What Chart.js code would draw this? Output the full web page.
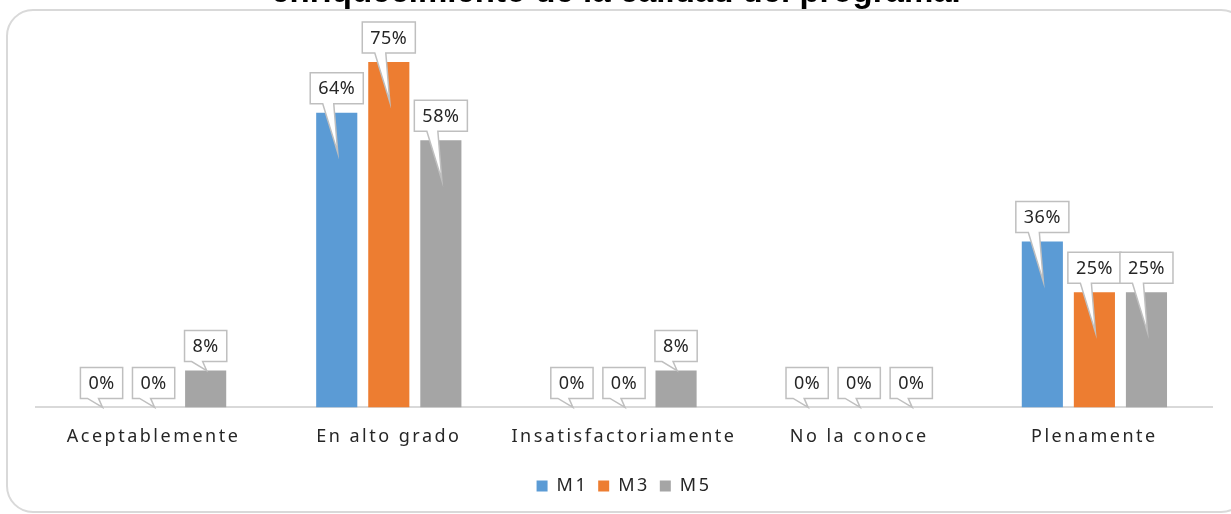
<!DOCTYPE html>
<html>
<head>
<meta charset="utf-8">
<script src="https://cdn.jsdelivr.net/npm/chart.js@4/dist/chart.umd.min.js"></script>
<style>
  html, body { margin: 0; padding: 0; background: #fff; }
  #wrap { width: 1231px; height: 514px; position: relative; }
</style>
</head>
<body>
<div id="wrap"><canvas id="grafico"></canvas></div>
<script>
// datos
const categorias = ['Aceptablemente', 'En alto grado', 'Insatisfactoriamente', 'No la conoce', 'Plenamente'];
const serieM1 = [0, 64, 0, 0, 36];
const serieM3 = [0, 75, 0, 0, 25];
const serieM5 = [8, 58, 8, 0, 25];
const titulo = 'enriquecimiento de la calidad del programa.';

const fuente = "'Noto Sans', sans-serif";
const espaciado = '2.5px';

// la letra original es mas ancha, se abre un poco el espaciado
let espacio = {
  id: 'espacio',
  beforeLayout: function (chart) { chart.ctx.letterSpacing = espaciado; },
  beforeDraw: function (chart) { chart.ctx.letterSpacing = espaciado; }
};

// marco redondeado y titulo cortado arriba
let marcoTitulo = {
  id: 'marcoTitulo',
  beforeDraw: function (chart) {
    let c = chart.ctx;
    c.save();
    c.letterSpacing = '0px';
    c.strokeStyle = '#d9d9d9';
    c.lineWidth = 2;
    c.beginPath();
    c.roundRect(7, 10, 1240, 502, 26);
    c.stroke();
    c.fillStyle = '#000';
    c.font = "bold 33px 'Liberation Sans', Arial, sans-serif";
    c.textAlign = 'center';
    c.textBaseline = 'alphabetic';
    c.fillText(titulo, 616, 2);
    c.restore();
  }
};

// etiquetas tipo globo como en excel
let globos = {
  id: 'globos',
  afterDatasetsDraw: function (chart) {
    let c = chart.ctx;
    let base = chart.scales.y.getPixelForValue(0);
    c.save();
    c.letterSpacing = '0.5px';
    c.font = '18px ' + fuente;
    c.textAlign = 'center';
    c.textBaseline = 'middle';
    chart.data.datasets.forEach(function (ds, i) {
      let meta = chart.getDatasetMeta(i);
      meta.data.forEach(function (bar, j) {
        let txt = ds.data[j] + '%';
        let x = bar.x;
        let top = bar.y;
        let w = c.measureText(txt).width + 16;
        let h = 31;
        let abajo = top - 9;
        let izq = x - w / 2;
        let der = x + w / 2;
        let punta = (base - top) > 60 ? top + 40 : top;
        c.beginPath();
        c.moveTo(izq, abajo - h);
        c.lineTo(der, abajo - h);
        c.lineTo(der, abajo);
        c.lineTo(x - 3, abajo);
        c.lineTo(x + 1, punta);
        c.lineTo(x - 14, abajo);
        c.lineTo(izq, abajo);
        c.closePath();
        c.fillStyle = '#fff';
        c.fill();
        c.strokeStyle = '#bfbfbf';
        c.lineWidth = 1.5;
        c.stroke();
        c.fillStyle = '#262626';
        c.fillText(txt, x, abajo - h / 2 + 1);
      });
    });
    c.restore();
  }
};

let ctx = document.getElementById('grafico').getContext('2d');
let chart = new Chart(ctx, {
  type: 'bar',
  data: {
    labels: categorias,
    datasets: [
      { label: 'M1', data: serieM1, backgroundColor: '#5b9bd5' },
      { label: 'M3', data: serieM3, backgroundColor: '#ed7d31' },
      { label: 'M5', data: serieM5, backgroundColor: '#a5a5a5' }
    ]
  },
  options: {
    responsive: true,
    maintainAspectRatio: false,
    animation: false,
    categoryPercentage: 0.664,
    barPercentage: 0.79,
    layout: {
      padding: { left: 36, right: 19, top: 39, bottom: 9 }
    },
    scales: {
      x: {
        grid: { display: false, drawTicks: false },
        border: { display: true, color: '#d9d9d9', width: 2 },
        ticks: { color: '#262626', font: { family: fuente, size: 18 }, padding: 19, maxRotation: 0, autoSkip: false }
      },
      y: {
        display: false,
        min: 0,
        max: 80
      }
    },
    plugins: {
      title: { display: false },
      tooltip: { enabled: false },
      legend: {
        position: 'bottom',
        labels: {
          boxWidth: 11,
          boxHeight: 11,
          color: '#262626',
          font: { family: fuente, size: 18 },
          padding: 10
        }
      }
    }
  },
  plugins: [espacio, marcoTitulo, globos]
});
</script>
</body>
</html>
